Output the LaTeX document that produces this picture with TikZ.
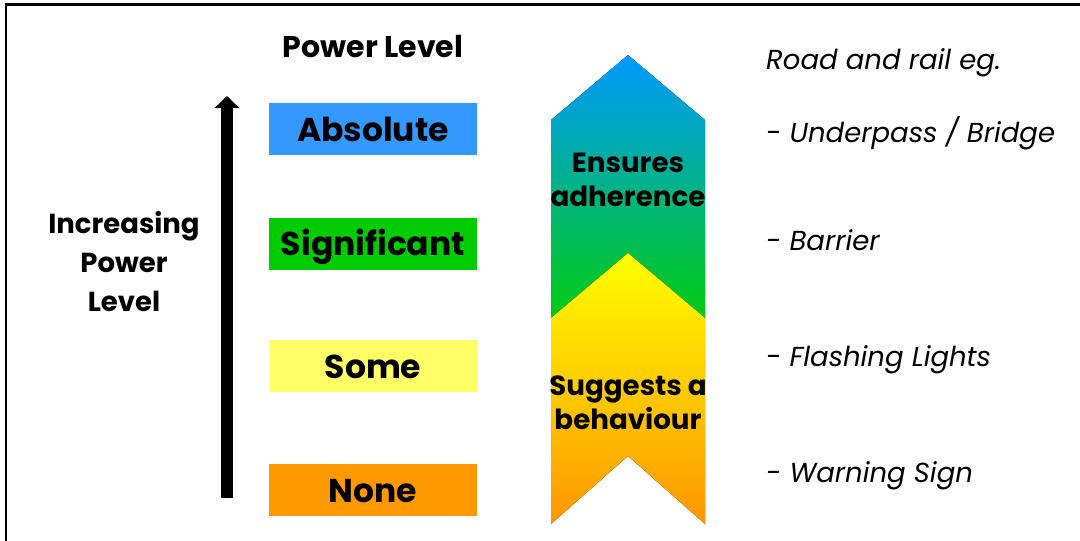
\documentclass[tikz,border=0pt]{standalone}
\usepackage{fontspec}
\setmainfont{Poppins}
\usetikzlibrary{arrows.meta}
\definecolor{cAbs}{RGB}{51,153,255}
\definecolor{cSig}{RGB}{0,204,0}
\definecolor{cSome}{RGB}{255,255,102}
\definecolor{cNone}{RGB}{255,153,0}
\definecolor{cBlue}{RGB}{0,153,255}
\definecolor{cGreen}{RGB}{0,204,17}
\definecolor{cYel}{RGB}{255,255,0}
\definecolor{cOra}{RGB}{255,150,0}
\begin{document}
\begin{tikzpicture}[x=1pt,y=-1pt,
  level/.style={minimum width=208pt, minimum height=52pt, inner sep=0pt,
    text height=24pt, text depth=0pt,
    font=\fontsize{33}{38}\selectfont\bfseries},
  example/.style={anchor=base west, inner sep=0pt,
    font=\fontsize{27.5}{32}\selectfont\itshape},
  boldtext/.style={inner sep=0pt, align=center},
  frameline/.style={line width=2.5pt, black},
  powerarrow/.style={line width=12pt, -{Triangle[width=24pt,length=12pt]}}]
\useasboundingbox (0,0) rectangle (1080,541);
\fill[white] (0,0) rectangle (1080,541);
% frame
\draw[frameline] (6.2,545) -- (6.2,4.5) -- (1085,4.5);

% title
\node[boldtext, anchor=base, font=\fontsize{30}{34}\selectfont\bfseries] (title) at (373,57) {Power Level};

% power level boxes
\node[level, fill=cAbs]  (abs)  at (373,129)   {Absolute};
\node[level, fill=cSig]  (sig)  at (373,243.5) {Significant};
\node[level, fill=cSome] (some) at (373,366)   {Some};
\node[level, fill=cNone] (none) at (373,490)   {None};

% increasing arrow
\coordinate (arrS) at (227,498);
\coordinate (arrE) at (227,96);
\draw[powerarrow] (arrS) -- (arrE);
\node[boldtext, font=\fontsize{27.5}{39}\selectfont\bfseries] (inc) at (124,262) {Increasing\\Power\\Level};

% chevrons
\fill[top color=cBlue, bottom color=cGreen]
  (628,55) -- (705,120) -- (705,318) -- (628,253) -- (551,318) -- (551,120) -- cycle;
\fill[top color=cYel, bottom color=cOra]
  (628,253) -- (705,318) -- (705,524) -- (628,456) -- (551,524) -- (551,318) -- cycle;
\node[boldtext, font=\fontsize{27.7}{34}\selectfont\bfseries] (ens) at (628,180) {Ensures\\adherence};
\node[boldtext, font=\fontsize{27.7}{34}\selectfont\bfseries] (sug) at (628,403) {Suggests a\\behaviour};

% examples
\node[example] (road) at (766,69)  {Road and rail eg.};
\node[example] (ex1)  at (766,142) {- Underpass / Bridge};
\node[example] (ex2)  at (766,250) {- Barrier};
\node[example] (ex3)  at (766,366) {- Flashing Lights};
\node[example] (ex4)  at (766,482) {- Warning Sign};
\end{tikzpicture}
\end{document}
